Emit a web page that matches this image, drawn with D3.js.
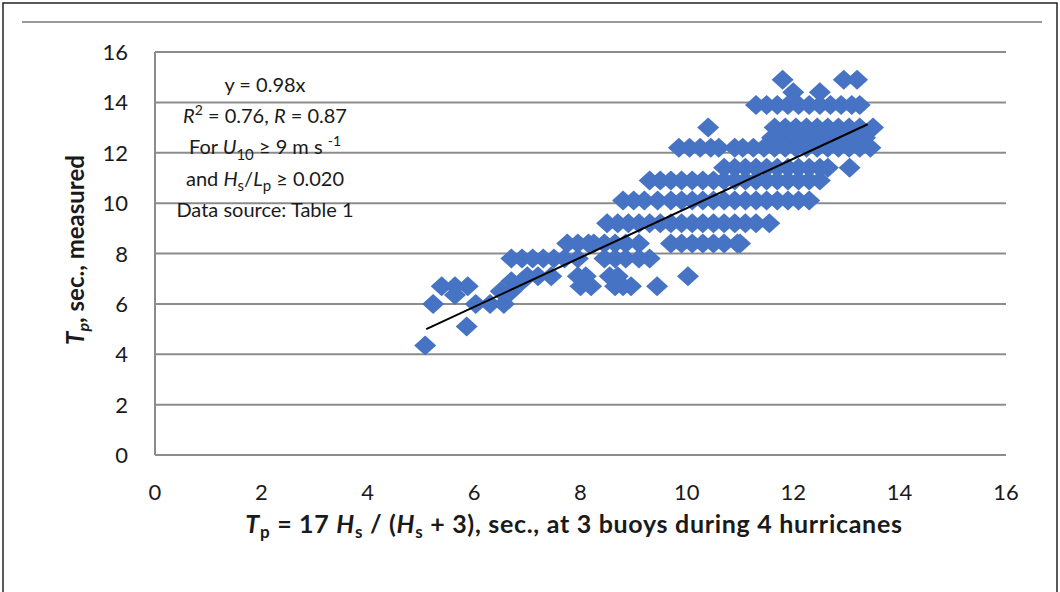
<!DOCTYPE html>
<html>
<head>
<meta charset="utf-8">
<script src="https://cdn.jsdelivr.net/npm/d3@7"></script>
<style>
  html, body { margin: 0; padding: 0; background: #fff; }
  svg { display: block; }
  text { font-family: Lato, "Open Sans", sans-serif; fill: #1a1a1a; }
</style>
</head>
<body>
<svg id="chart" width="1060" height="592"></svg>
<script>
// ---- data ----
const xTicks = [0, 2, 4, 6, 8, 10, 12, 14, 16];
const yTicks = [0, 2, 4, 6, 8, 10, 12, 14, 16];
// measured Tp (y) for each row of points
const rowMeasured = [14.9, 14.4, 13.9, 13.0, 12.6, 12.2, 11.4, 10.9, 10.1, 9.2, 8.4, 7.8, 7.1, 6.9, 6.5, 6.7, 6.35, 6.0, 5.1, 4.35];
// computed Tp = 17 Hs/(Hs+3) (x) of the points in each row
const rowComputed = [
  [11.8, 12.95, 13.2],
  [12.0, 12.5],
  [11.3, 11.5, 11.7, 11.9, 12.1, 12.3, 12.5, 12.7, 12.9, 13.1, 13.25],
  [10.4, 11.65, 11.85, 12.05, 12.25, 12.45, 12.65, 12.85, 13.05, 13.25, 13.5],
  [11.6, 11.8, 12.0, 12.2, 12.4, 12.6, 12.8, 13.0, 13.2, 13.35],
  [9.85, 10.05, 10.25, 10.45, 10.6, 10.9, 11.05, 11.25, 11.45, 11.65, 11.85, 12.05, 12.25, 12.45, 12.65, 12.85, 13.05, 13.25, 13.45],
  [10.7, 10.9, 11.1, 11.3, 11.5, 11.7, 11.9, 12.1, 12.3, 12.5, 12.65, 13.06],
  [9.3, 9.5, 9.7, 9.9, 10.1, 10.3, 10.5, 10.7, 10.9, 11.1, 11.3, 11.5, 11.7, 11.9, 12.1, 12.3, 12.5],
  [8.8, 9.0, 9.2, 9.45, 9.7, 9.9, 10.1, 10.3, 10.5, 10.7, 10.9, 11.1, 11.3, 11.5, 11.7, 11.9, 12.1, 12.3],
  [8.5, 8.7, 8.9, 9.1, 9.3, 9.5, 9.7, 9.9, 10.1, 10.3, 10.5, 10.7, 10.9, 11.1, 11.3, 11.55],
  [7.75, 7.95, 8.15, 8.25, 8.45, 8.65, 8.85, 9.1, 9.7, 9.9, 10.1, 10.3, 10.5, 10.7, 10.95, 11.0],
  [6.7, 6.9, 7.1, 7.3, 7.5, 7.7, 7.95, 8.45, 8.65, 8.85, 9.1, 9.3],
  [7.0, 7.2, 7.45, 7.95, 8.1, 8.55, 8.7, 10.02],
  [6.7, 6.9],
  [6.5, 6.7],
  [5.39, 5.64, 5.88, 8.0, 8.2, 8.65, 8.8, 8.95, 9.44],
  [5.64],
  [5.23, 6.03, 6.3, 6.56],
  [5.86],
  [5.08]
];
const fitSlope = 0.98;
const fitRange = [5.1, 13.4];

// ---- layout ----
const svg = d3.select("#chart");
const x = d3.scaleLinear().domain([0, 16]).range([155, 1006]);
const y = d3.scaleLinear().domain([0, 16]).range([455, 52]);

// outer frame
svg.append("rect").attr("x", 3).attr("y", 3).attr("width", 1054).attr("height", 620)
  .attr("fill", "none").attr("stroke", "#222").attr("stroke-width", 1.5);
svg.append("line").attr("x1", 22).attr("x2", 1042).attr("y1", 22).attr("y2", 22)
  .attr("stroke", "#9a9a9a").attr("stroke-width", 2);

// gridlines
svg.append("g").selectAll("line").data(yTicks).join("line")
  .attr("x1", x(0)).attr("x2", x(16))
  .attr("y1", d => y(d)).attr("y2", d => y(d))
  .attr("stroke", "#8c8c8c").attr("stroke-width", 2);
svg.append("line").attr("x1", x(0)).attr("x2", x(0)).attr("y1", y(16)).attr("y2", y(0))
  .attr("stroke", "#8c8c8c").attr("stroke-width", 2);

// y tick labels
svg.append("g").selectAll("text").data(yTicks).join("text")
  .attr("x", 128).attr("y", d => y(d) + 8)
  .attr("text-anchor", "end").attr("font-size", 22)
  .text(d => d);
// x tick labels
svg.append("g").selectAll("text").data(xTicks).join("text")
  .attr("x", d => x(d)).attr("y", 500)
  .attr("text-anchor", "middle").attr("font-size", 22)
  .text(d => d);

// points
const points = [];
rowMeasured.forEach((m, i) => rowComputed[i].forEach(c => points.push({c, m})));
const diamond = {
  draw(ctx) {
    const hw = 11, hh = 10;
    ctx.moveTo(0, -hh); ctx.lineTo(hw, 0); ctx.lineTo(0, hh); ctx.lineTo(-hw, 0); ctx.closePath();
  }
};
svg.append("g").selectAll("path").data(points).join("path")
  .attr("d", d3.symbol().type(diamond))
  .attr("transform", d => `translate(${x(d.c)},${y(d.m)})`)
  .attr("fill", "#4673c4");

// trendline
svg.append("line")
  .attr("x1", x(fitRange[0])).attr("y1", y(fitSlope * fitRange[0]))
  .attr("x2", x(fitRange[1])).attr("y2", y(fitSlope * fitRange[1]))
  .attr("stroke", "#000").attr("stroke-width", 2);

// annotation
const ann = svg.append("g").attr("font-size", 20).attr("text-anchor", "middle");
const cx = 265;
function line(yPos, parts) {
  const t = ann.append("text").attr("x", cx).attr("y", yPos);
  parts.forEach(p => {
    const s = t.append("tspan").text(p.t);
    if (p.i) s.attr("font-style", "italic");
    if (p.dy) s.attr("dy", p.dy);
    if (p.fs) s.attr("font-size", p.fs);
  });
}
line(92, [{t: "y = 0.98x"}]);
line(123, [{t: "R", i: 1}, {t: "2", dy: -8, fs: 14}, {t: " = 0.76, ", dy: 8}, {t: "R", i: 1}, {t: " = 0.87"}]);
line(154, [{t: "For "}, {t: "U", i: 1}, {t: "10", dy: 6, fs: 15}, {t: " ≥ 9 m s ", dy: -6}, {t: "-1", dy: -8, fs: 14}]);
line(186, [{t: "and "}, {t: "H", i: 1}, {t: "s", dy: 5, fs: 15}, {t: "/", dy: -5}, {t: "L", i: 1}, {t: "p", dy: 5, fs: 15}, {t: " ≥ 0.020", dy: -5}]);
line(217, [{t: "Data source: Table 1"}]);

// axis titles
const xt = svg.append("text").attr("x", 574).attr("y", 533)
  .attr("text-anchor", "middle").attr("font-size", 25).attr("font-weight", "bold")
  .attr("letter-spacing", 0.7);
xt.append("tspan").attr("font-style", "italic").text("T");
xt.append("tspan").attr("font-size", 17).attr("dy", 5).text("p");
xt.append("tspan").attr("dy", -5).text(" = 17 ");
xt.append("tspan").attr("font-style", "italic").text("H");
xt.append("tspan").attr("font-size", 17).attr("dy", 5).text("s");
xt.append("tspan").attr("dy", -5).text(" / (");
xt.append("tspan").attr("font-style", "italic").text("H");
xt.append("tspan").attr("font-size", 17).attr("dy", 5).text("s");
xt.append("tspan").attr("dy", -5).text(" + 3), sec., at 3 buoys during 4 hurricanes");

const yt = svg.append("text").attr("transform", "translate(84,250) rotate(-90)")
  .attr("text-anchor", "middle").attr("font-size", 24).attr("font-weight", "bold");
yt.append("tspan").attr("font-style", "italic").text("T");
yt.append("tspan").attr("font-style", "italic").attr("font-size", 16).attr("dy", 5).text("p");
yt.append("tspan").attr("dy", -5).text(", sec., measured");
</script>
</body>
</html>
